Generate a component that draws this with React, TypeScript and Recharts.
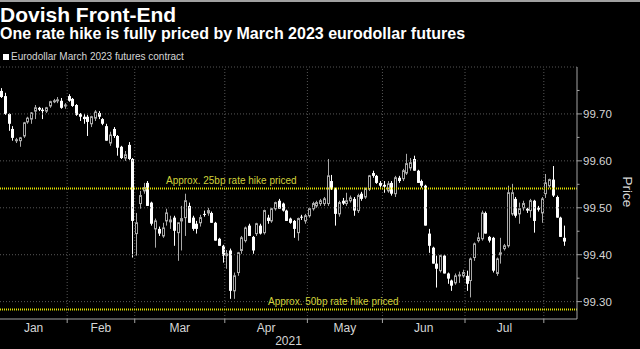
import { ComposedChart, Bar, XAxis, YAxis, ReferenceLine } from 'recharts';

// Eurodollar March 2023 futures, daily candles (Jan 2021 - early Aug 2021)
const opens = [
  99.749, 99.738, 99.700, 99.668, 99.643, 99.643, 99.653, 99.683, 99.689, 99.706, 99.713, 99.709, 99.706, 99.717, 99.726, 99.728, 99.728, 99.717,
  99.738, 99.732, 99.719, 99.700, 99.694, 99.694, 99.679, 99.691, 99.702, 99.689, 99.674, 99.638, 99.668, 99.653, 99.630, 99.606, 99.634, 99.604,
  99.445, 99.509, 99.536, 99.553, 99.511, 99.455, 99.455, 99.440, 99.472, 99.470, 99.479, 99.447, 99.472, 99.479, 99.504, 99.479, 99.466, 99.468, 99.487, 99.489, 99.489, 99.468, 99.434, 99.419,
  99.398, 99.409, 99.323, 99.362, 99.409, 99.430, 99.462, 99.438, 99.445, 99.462, 99.447, 99.479, 99.472, 99.498, 99.515, 99.509, 99.494, 99.477, 99.472, 99.447, 99.481, 99.472,
  99.483, 99.498, 99.504, 99.509, 99.509, 99.509, 99.557, 99.540, 99.487, 99.515, 99.509, 99.515, 99.519, 99.494, 99.530, 99.523, 99.540, 99.574, 99.568, 99.553,
  99.549, 99.536, 99.553, 99.530, 99.564, 99.562, 99.574, 99.585, 99.604, 99.579, 99.557, 99.547, 99.445, 99.415, 99.381, 99.366, 99.398, 99.360, 99.345, 99.340, 99.355, 99.355,
  99.355, 99.345, 99.394, 99.430, 99.434, 99.489, 99.438, 99.436, 99.360, 99.400, 99.413, 99.419, 99.487, 99.519, 99.487, 99.500, 99.498, 99.494, 99.515, 99.500, 99.489,
  99.530, 99.547, 99.560, 99.523, 99.479, 99.436,
];
const highs = [
  99.755, 99.745, 99.702, 99.674, 99.649, 99.651, 99.683, 99.694, 99.704, 99.719, 99.715, 99.713, 99.715, 99.728, 99.732, 99.736, 99.734, 99.723,
  99.742, 99.734, 99.721, 99.702, 99.700, 99.698, 99.696, 99.708, 99.706, 99.691, 99.679, 99.662, 99.672, 99.655, 99.632, 99.621, 99.640, 99.606,
  99.489, 99.536, 99.553, 99.557, 99.513, 99.477, 99.460, 99.468, 99.498, 99.483, 99.483, 99.468, 99.504, 99.530, 99.511, 99.483, 99.472, 99.485, 99.494, 99.500, 99.492, 99.470, 99.436, 99.421,
  99.410, 99.413, 99.362, 99.406, 99.440, 99.460, 99.466, 99.440, 99.468, 99.466, 99.496, 99.485, 99.500, 99.513, 99.519, 99.511, 99.496, 99.479, 99.474, 99.479, 99.485, 99.487,
  99.500, 99.513, 99.515, 99.519, 99.523, 99.604, 99.570, 99.543, 99.515, 99.521, 99.532, 99.526, 99.523, 99.530, 99.534, 99.543, 99.570, 99.579, 99.570, 99.557,
  99.557, 99.557, 99.557, 99.568, 99.568, 99.583, 99.615, 99.606, 99.611, 99.581, 99.560, 99.549, 99.455, 99.417, 99.398, 99.400, 99.400, 99.362, 99.347, 99.360, 99.364, 99.368,
  99.366, 99.394, 99.426, 99.447, 99.494, 99.492, 99.440, 99.438, 99.394, 99.436, 99.423, 99.547, 99.551, 99.523, 99.511, 99.515, 99.500, 99.519, 99.517, 99.504, 99.523,
  99.572, 99.562, 99.589, 99.526, 99.481, 99.462,
];
const lows = [
  99.734, 99.698, 99.664, 99.643, 99.638, 99.630, 99.649, 99.679, 99.679, 99.689, 99.706, 99.689, 99.702, 99.713, 99.723, 99.723, 99.711, 99.711,
  99.726, 99.715, 99.696, 99.685, 99.679, 99.653, 99.672, 99.685, 99.689, 99.676, 99.643, 99.632, 99.649, 99.611, 99.604, 99.600, 99.602, 99.394,
  99.398, 99.498, 99.530, 99.504, 99.462, 99.415, 99.440, 99.436, 99.462, 99.455, 99.419, 99.387, 99.409, 99.440, 99.468, 99.451, 99.445, 99.460, 99.481, 99.483, 99.468, 99.430, 99.419, 99.383,
  99.370, 99.306, 99.306, 99.355, 99.402, 99.426, 99.440, 99.402, 99.440, 99.443, 99.443, 99.466, 99.468, 99.494, 99.498, 99.492, 99.472, 99.466, 99.436, 99.430, 99.474, 99.466,
  99.479, 99.494, 99.500, 99.504, 99.504, 99.504, 99.538, 99.462, 99.481, 99.506, 99.504, 99.511, 99.483, 99.489, 99.515, 99.519, 99.536, 99.564, 99.551, 99.543,
  99.532, 99.532, 99.526, 99.523, 99.553, 99.557, 99.570, 99.579, 99.579, 99.553, 99.543, 99.462, 99.404, 99.381, 99.330, 99.362, 99.360, 99.338, 99.323, 99.336, 99.340, 99.351,
  99.323, 99.309, 99.387, 99.426, 99.430, 99.445, 99.426, 99.362, 99.355, 99.381, 99.409, 99.415, 99.483, 99.479, 99.466, 99.494, 99.489, 99.479, 99.447, 99.492, 99.468,
  99.521, 99.543, 99.523, 99.479, 99.438, 99.419,
];
const closes = [
  99.736, 99.700, 99.679, 99.649, 99.645, 99.649, 99.681, 99.691, 99.702, 99.713, 99.709, 99.706, 99.713, 99.726, 99.728, 99.730, 99.713, 99.719,
  99.728, 99.717, 99.698, 99.694, 99.689, 99.683, 99.694, 99.704, 99.694, 99.679, 99.643, 99.655, 99.653, 99.628, 99.606, 99.613, 99.604, 99.472,
  99.468, 99.526, 99.543, 99.504, 99.466, 99.472, 99.445, 99.457, 99.489, 99.474, 99.451, 99.468, 99.477, 99.515, 99.468, 99.455, 99.455, 99.479, 99.485, 99.494, 99.468, 99.430, 99.419, 99.398,
  99.402, 99.323, 99.355, 99.404, 99.436, 99.457, 99.440, 99.409, 99.466, 99.445, 99.494, 99.472, 99.498, 99.511, 99.498, 99.494, 99.472, 99.468, 99.455, 99.477, 99.479, 99.483,
  99.498, 99.509, 99.511, 99.515, 99.519, 99.568, 99.540, 99.487, 99.511, 99.509, 99.515, 99.521, 99.494, 99.526, 99.519, 99.540, 99.568, 99.568, 99.553, 99.547,
  99.545, 99.551, 99.530, 99.564, 99.557, 99.579, 99.594, 99.596, 99.579, 99.553, 99.547, 99.462, 99.419, 99.381, 99.370, 99.398, 99.360, 99.349, 99.334, 99.355, 99.357, 99.362,
  99.338, 99.391, 99.423, 99.436, 99.489, 99.445, 99.430, 99.366, 99.391, 99.404, 99.419, 99.532, 99.532, 99.483, 99.498, 99.509, 99.494, 99.515, 99.472, 99.496, 99.519,
  99.553, 99.560, 99.526, 99.479, 99.438, 99.428,
];

const monthNames = ['Jan', 'Feb', 'Mar', 'Apr', 'May', 'Jun', 'Jul'];
// index of first candle in each month (Feb .. Aug)
const monthStarts = [18, 36, 60, 82, 102, 124, 145];
const priceTicks = [99.3, 99.35, 99.4, 99.45, 99.5, 99.55, 99.6, 99.65, 99.7, 99.75, 99.8];
const gridPrices = [99.3, 99.4, 99.5, 99.6, 99.7, 99.8];
const hike25 = 99.541;
const hike50 = 99.283;

const X_DOMAIN: [number, number] = [-0.4, 153.34];
const Y_DOMAIN: [number, number] = [99.263, 99.8];

const FONT = '"Liberation Sans", Arial, sans-serif';
const TEXT = '#d6d6d6';
const AXIS = '#a4a4a4';
const GRID = '#575757';
const YELLOW = '#e2e200';

const data = opens.map((o, i) => ({
  i,
  open: o,
  high: highs[i],
  low: lows[i],
  close: closes[i],
}));

const boundaries = monthStarts.map((s) => s - 0.5);
const lefts = [X_DOMAIN[0], ...boundaries];
const mids = monthNames.map((_, k) => (lefts[k] + boundaries[k]) / 2);
const xTicks = [...boundaries, ...mids].sort((a, b) => a - b);

const near = (a: number, b: number) => Math.abs(a - b) < 1e-6;

function Candle(props: any) {
  const { x, y, width, height, payload } = props;
  const { open, close, high, low } = payload;
  const top = Math.min(y, y + height);
  const h = Math.abs(height);
  const span = high - low;
  const py = (v: number) => (span > 0 ? top + ((high - v) / span) * h : top);
  const c = Math.round(x + width / 2);
  const up = close >= open;
  const bTop = py(Math.max(open, close));
  const bBot = py(Math.min(open, close));
  const bh = Math.max(bBot - bTop, 1);
  const color = up ? '#a8a8a8' : '#ffffff';
  return (
    <g>
      <line x1={c + 0.5} x2={c + 0.5} y1={top} y2={top + Math.max(h, 1)} stroke={color} strokeWidth={1} />
      {up ? (
        <rect x={c - 0.5} y={bTop} width={2} height={bh} fill="#000" stroke={color} strokeWidth={1} />
      ) : (
        <rect x={c - 1} y={bTop} width={3} height={bh} fill="#fff" />
      )}
    </g>
  );
}

function MonthTick(props: any) {
  const { x, y, payload } = props;
  const v = payload.value;
  if (boundaries.some((b) => near(b, v))) {
    return <line x1={x} x2={x} y1={y} y2={y + 4} stroke={AXIS} strokeWidth={1} />;
  }
  const k = mids.findIndex((m) => near(m, v));
  return (
    <text x={x} y={y + 13} textAnchor="middle" fill={TEXT} fontSize={12} fontFamily={FONT}>
      {monthNames[k]}
    </text>
  );
}

function PriceTick(props: any) {
  const { x, y, payload } = props;
  const v = payload.value;
  if (v > 99.79) return <g />;
  const major = near(v * 10, Math.round(v * 10));
  return (
    <g>
      <line x1={x} x2={x + (major ? 5 : 2.5)} y1={y} y2={y} stroke={AXIS} strokeWidth={1} />
      {major && (
        <text x={x + 6} y={y} dy="0.36em" fill={TEXT} fontSize={11.5} fontFamily={FONT}>
          {v.toFixed(2)}
        </text>
      )}
    </g>
  );
}

function HikeLabel(props: any) {
  const { viewBox, text, dx } = props;
  return (
    <text x={viewBox.x + dx} y={viewBox.y - 5} fill="#d2d23a" fontSize={10} fontFamily={FONT}>
      {text}
    </text>
  );
}

function PriceTitle(props: any) {
  const { viewBox } = props;
  const cx = viewBox.x + 51;
  const cy = 192;
  return (
    <text
      x={cx}
      y={cy}
      transform={`rotate(90 ${cx} ${cy})`}
      textAnchor="middle"
      dy="0.35em"
      fill={TEXT}
      fontSize={13.5}
      fontFamily={FONT}
    >
      Price
    </text>
  );
}

export default function App() {
  return (
    <div style={{ position: 'absolute', left: 0, top: 0, width: 640, height: 349, background: '#000', overflow: 'hidden' }}>
      <ComposedChart
        width={640}
        height={349}
        data={data}
        margin={{ top: 67, right: 0, bottom: 0, left: 0 }}
        style={{ position: 'absolute', left: 0, top: 0 }}
      >
        <XAxis
          dataKey="i"
          type="number"
          domain={X_DOMAIN}
          ticks={xTicks}
          interval={0}
          tick={<MonthTick />}
          tickLine={false}
          tickSize={0}
          tickMargin={0}
          height={30}
          axisLine={{ stroke: AXIS, strokeWidth: 1 }}
          allowDataOverflow
          label={{ value: '2021', position: 'insideBottom', offset: 4, fill: TEXT, fontSize: 12, fontFamily: FONT }}
        />
        <YAxis
          orientation="right"
          type="number"
          domain={Y_DOMAIN}
          ticks={priceTicks}
          interval={0}
          tick={<PriceTick />}
          tickLine={false}
          tickSize={0}
          tickMargin={0}
          width={63}
          axisLine={{ stroke: AXIS, strokeWidth: 1 }}
          allowDataOverflow
          label={<PriceTitle />}
        />
        {gridPrices.map((p) => (
          <ReferenceLine key={`gy${p}`} y={p} stroke={GRID} strokeDasharray="1 2" />
        ))}
        {boundaries.map((b) => (
          <ReferenceLine key={`gx${b}`} x={b} stroke={GRID} strokeDasharray="1 2" />
        ))}
        <ReferenceLine
          y={hike25}
          stroke={YELLOW}
          strokeWidth={2}
          strokeDasharray="1 1"
          label={<HikeLabel text="Approx. 25bp rate hike priced" dx={166} />}
        />
        <ReferenceLine
          y={hike50}
          stroke={YELLOW}
          strokeWidth={2}
          strokeDasharray="1 1"
          label={<HikeLabel text="Approx. 50bp rate hike priced" dx={268} />}
        />
        <Bar dataKey={(d: any) => [d.low, d.high]} barSize={3} shape={<Candle />} isAnimationActive={false} />
      </ComposedChart>
      <svg width={640} height={67} style={{ position: 'absolute', left: 0, top: 0 }}>
        <rect x={0} y={0} width={640} height={2} fill="#a0a0a0" />
        <text x={0} y={22} fill="#fff" fontSize={21} fontWeight={700} fontFamily={FONT}>
          Dovish Front-End
        </text>
        <text x={0} y={38.5} fill="#fff" fontSize={16} fontWeight={700} fontFamily={FONT}>
          One rate hike is fully priced by March 2023 eurodollar futures
        </text>
        <rect x={3} y={54} width={6} height={6} fill="#fff" />
        <text x={11} y={60} fill={TEXT} fontSize={10} fontFamily={FONT}>
          Eurodollar March 2023 futures contract
        </text>
      </svg>
    </div>
  );
}
